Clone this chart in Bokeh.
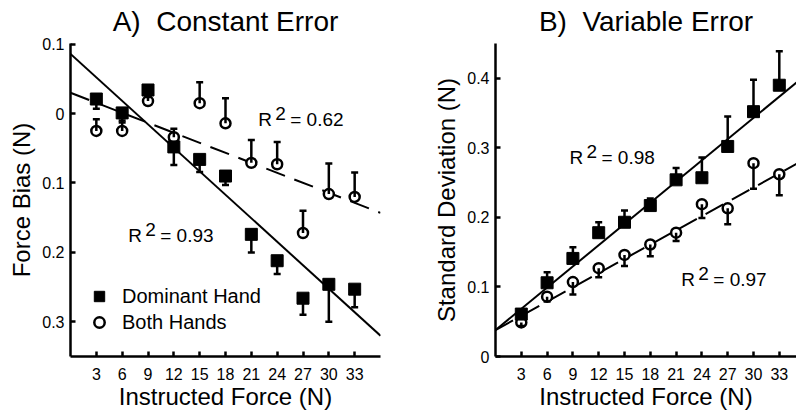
from bokeh.plotting import figure
from bokeh.layouts import row
from bokeh.models import Range1d, FixedTicker, Legend, LegendItem
from bokeh.embed import file_html
from bokeh.resources import INLINE
from bokeh.core.properties import value

FONT = "Liberation Sans"

# ---------------- data ----------------
force = [3, 6, 9, 12, 15, 18, 21, 24, 27, 30, 33]
x_ticks = [3, 6, 9, 12, 15, 18, 21, 24, 27, 30, 33]

# A) Constant error (force bias, N)
ce_dominant = [0.021, 0.001, 0.034, -0.048, -0.066, -0.090, -0.174, -0.212, -0.266, -0.246, -0.253]
ce_dominant_err = [0.014, 0.014, 0.010, 0.026, 0.018, 0.013, 0.026, 0.019, 0.024, 0.054, 0.026]
ce_both = [-0.025, -0.025, 0.018, -0.034, 0.015, -0.014, -0.071, -0.073, -0.172, -0.116, -0.120]
ce_both_err = [0.017, 0.015, 0.010, 0.012, 0.030, 0.036, 0.033, 0.032, 0.032, 0.044, 0.035]
ce_fit_x = [0, 36]
ce_dominant_fit = [0.086, -0.320]
ce_both_fit = [0.030, -0.143]
ce_ticks = [0.1, 0, -0.1, -0.2, -0.3]
ce_tick_labels = ["0.1", "0", "0.1", "0.2", "0.3"]

# B) Variable error (standard deviation, N)
ve_dominant = [0.061, 0.106, 0.141, 0.178, 0.193, 0.217, 0.254, 0.257, 0.302, 0.352, 0.390]
ve_dominant_err = [0.005, 0.015, 0.016, 0.015, 0.017, 0.010, 0.017, 0.029, 0.043, 0.046, 0.049]
ve_both = [0.049, 0.086, 0.107, 0.127, 0.146, 0.161, 0.178, 0.219, 0.213, 0.278, 0.262]
ve_both_err = [0.005, 0.007, 0.018, 0.013, 0.016, 0.017, 0.012, 0.020, 0.023, 0.037, 0.030]
ve_fit_x = [0, 35]
ve_dominant_fit = [0.038, 0.394]
ve_both_fit = [0.038, 0.277]
ve_ticks = [0, 0.1, 0.2, 0.3, 0.4]
ve_tick_labels = ["0", "0.1", "0.2", "0.3", "0.4"]

# R^2 annotations: (x, y, text)
ce_r2 = [(21.8, -0.009, "0.62"), (6.7, -0.175, "0.93")]
ve_r2 = [(8.6, 0.286, "0.98"), (21.6, 0.110, "0.97")]


def style(p, yticks, ylabels, ylabel):
    p.xgrid.visible = False
    p.ygrid.visible = False
    p.outline_line_color = None
    p.background_fill_color = "white"
    p.border_fill_color = "white"
    for ax in (p.xaxis[0], p.yaxis[0]):
        ax.axis_line_width = 2.5
        ax.axis_line_color = "black"
        ax.major_tick_line_width = 2.5
        ax.major_tick_line_color = "black"
        ax.major_tick_in = 5
        ax.major_tick_out = 0
        ax.minor_tick_line_color = None
        ax.major_label_text_font = FONT
        ax.major_label_text_font_size = "16px"
        ax.major_label_text_color = "black"
        ax.axis_label_text_font = FONT
        ax.axis_label_text_font_size = "24px"
        ax.axis_label_text_font_style = "normal"
        ax.axis_label_text_color = "black"
    p.xaxis.ticker = FixedTicker(ticks=x_ticks)
    p.xaxis.axis_label = "Instructed Force (N)"
    p.xaxis.major_label_standoff = 11
    p.xaxis.axis_label_standoff = 0
    p.yaxis.ticker = FixedTicker(ticks=yticks)
    p.yaxis.major_label_overrides = {t: l for t, l in zip(yticks, ylabels)}
    p.yaxis.axis_label = ylabel
    p.yaxis.major_label_standoff = 6
    p.yaxis.axis_label_standoff = 4
    p.title.text_font = FONT
    p.title.text_font_size = "28px"
    p.title.text_font_style = "normal"
    p.title.text_color = "black"
    p.title.align = "center"
    p.title.vertical_align = "top"
    p.title.standoff = 10


def errorbars(p, xs, ys, errs, sign):
    ends = [y + sign * e for y, e in zip(ys, errs)]
    p.segment(x0=xs, y0=ys, x1=xs, y1=ends, line_color="black", line_width=2.5)
    p.scatter(x=xs, y=ends, marker="dash", size=7, line_color="black", line_width=2.5)


def r2_labels(p, items):
    for x, y, txt in items:
        p.text(x=[x], y=[y], text=["R"], text_font=value(FONT), text_font_size="19px",
               text_color="black", text_baseline="alphabetic")
        p.text(x=[x], y=[y], text=["2"], text_font=value(FONT), text_font_size="19px",
               text_color="black", text_baseline="alphabetic", x_offset=17, y_offset=-6)
        p.text(x=[x], y=[y], text=["= " + txt], text_font=value(FONT), text_font_size="19px",
               text_color="black", text_baseline="alphabetic", x_offset=32)


# ---------------- A) Constant Error ----------------
p1 = figure(width=423, height=412, x_range=Range1d(0, 36), y_range=Range1d(-0.35, 0.101),
            output_backend="svg", toolbar_location=None, title="A)\u00a0\u00a0Constant Error",
            min_border_left=70, min_border_right=43, min_border_top=43, min_border_bottom=53)
style(p1, ce_ticks, ce_tick_labels, "Force Bias (N)")

p1.line(ce_fit_x, ce_dominant_fit, line_color="black", line_width=2)
p1.line(ce_fit_x, ce_both_fit, line_color="black", line_width=2, line_dash="20 10")
r_both1 = p1.scatter(force, ce_both, marker="circle", size=10, line_color="black",
                     line_width=2.5, fill_color="white")
errorbars(p1, force, ce_both, ce_both_err, +1)
errorbars(p1, force, ce_dominant, ce_dominant_err, -1)
r_dom1 = p1.scatter(force, ce_dominant, marker="square", size=12, line_color="black",
                    fill_color="black")
r2_labels(p1, ce_r2)

legend = Legend(items=[LegendItem(label="Dominant Hand", renderers=[r_dom1]),
                       LegendItem(label="Both Hands", renderers=[r_both1])],
                location=(14, 21), glyph_width=30, glyph_height=26, label_height=26,
                spacing=0, padding=0, margin=0, label_standoff=8,
                border_line_alpha=0, background_fill_alpha=0,
                label_text_font=FONT, label_text_font_size="20px", label_text_color="black")
p1.add_layout(legend, "center")

# ---------------- B) Variable Error ----------------
p2 = figure(width=373, height=412, x_range=Range1d(0, 35), y_range=Range1d(0, 0.45),
            output_backend="svg", toolbar_location=None, title="B)\u00a0\u00a0Variable Error",
            min_border_left=72, min_border_right=0, min_border_top=43, min_border_bottom=53)
style(p2, ve_ticks, ve_tick_labels, "Standard Deviation (N)")

p2.line(ve_fit_x, ve_dominant_fit, line_color="black", line_width=2)
p2.line(ve_fit_x, ve_both_fit, line_color="black", line_width=2, line_dash="20 10")
p2.scatter(force, ve_both, marker="circle", size=10, line_color="black",
           line_width=2.5, fill_color="white")
errorbars(p2, force, ve_both, ve_both_err, -1)
errorbars(p2, force, ve_dominant, ve_dominant_err, +1)
p2.scatter(force, ve_dominant, marker="square", size=12, line_color="black", fill_color="black")
r2_labels(p2, ve_r2)

layout = row(p1, p2)
open("out.html", "w").write(file_html(layout, INLINE))
